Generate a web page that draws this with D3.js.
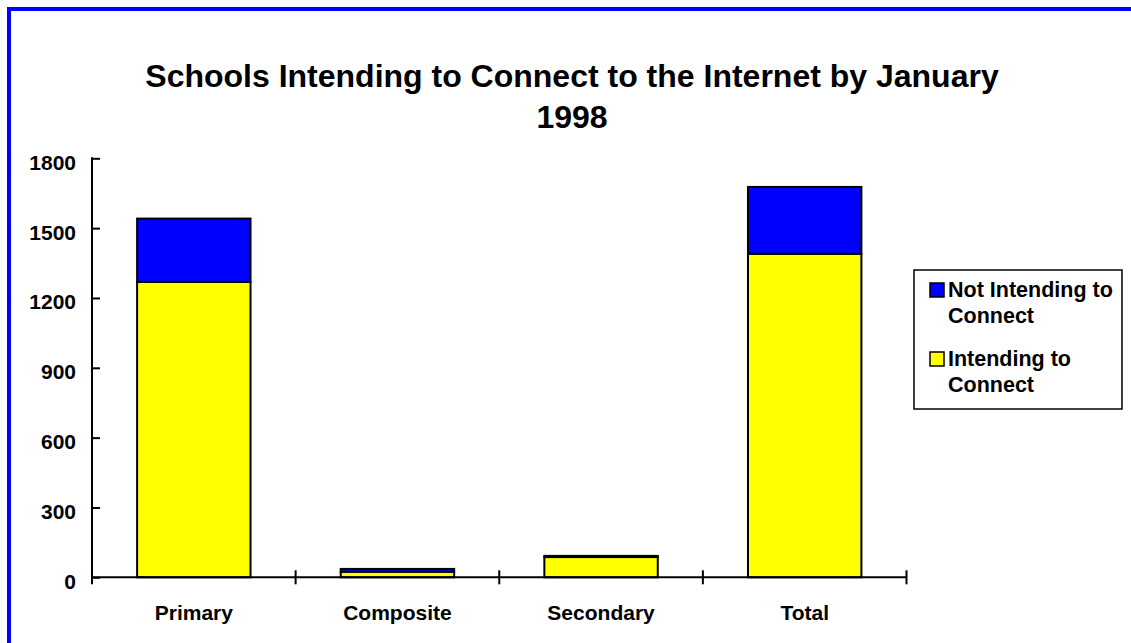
<!DOCTYPE html>
<html>
<head>
<meta charset="utf-8">
<script src="https://cdn.jsdelivr.net/npm/d3@7"></script>
<style>
html,body{margin:0;padding:0;background:#fff;overflow:hidden;}
svg{display:block;font-family:Arial,"Liberation Sans",sans-serif;font-weight:bold;}
</style>
</head>
<body>
<svg id="chart" width="1131" height="643"></svg>
<script>
const categories = ["Primary", "Composite", "Secondary", "Total"];
const intending = [1269, 24, 87, 1390];
const notIntending = [272, 12, 5, 287];
const yTicks = [0, 300, 600, 900, 1200, 1500, 1800];
const seriesNames = ["Not Intending to Connect", "Intending to Connect"];
const seriesColors = ["#0000ff", "#ffff00"];
const titleLines = ["Schools Intending to Connect to the Internet by January", "1998"];

const svg = d3.select("#chart");

// outer blue frame (right and bottom edges fall outside the view)
svg.append("rect").attr("x", 9).attr("y", 9).attr("width", 1300).attr("height", 800)
  .attr("fill", "none").attr("stroke", "#0000ff").attr("stroke-width", 4);

const x = d3.scaleBand().domain(categories).range([92, 906.5]).paddingInner(0.443).paddingOuter(0.2215);
const y = d3.scaleLinear().domain([0, 1800]).range([577.3, 158.3]);

// title
svg.append("text").attr("x", 572).attr("y", 87).attr("text-anchor", "middle")
  .attr("font-size", 32).text(titleLines[0]);
svg.append("text").attr("x", 572).attr("y", 128).attr("text-anchor", "middle")
  .attr("font-size", 32).text(titleLines[1]);

const data = categories.map((c, i) => ({cat: c, intending: intending[i], not: notIntending[i]}));
const stack = d3.stack().keys(["intending", "not"])(data);
const colorByKey = {intending: seriesColors[1], not: seriesColors[0]};

stack.forEach(layer => {
  svg.append("g").selectAll("rect").data(layer).join("rect")
    .attr("x", d => x(d.data.cat))
    .attr("width", x.bandwidth())
    .attr("y", d => y(d[1]))
    .attr("height", d => y(d[0]) - y(d[1]))
    .attr("fill", colorByKey[layer.key])
    .attr("stroke", "#000").attr("stroke-width", 2);
});

// y axis
const yAxis = d3.axisRight(y).tickValues(yTicks).tickSize(8).tickFormat("");
const gy = svg.append("g").attr("transform", "translate(92,0)").call(yAxis);
gy.select(".domain").remove();
gy.selectAll(".tick line").attr("stroke", "#000").attr("stroke-width", 2);
svg.append("line").attr("x1", 92).attr("x2", 92).attr("y1", y(1800) - 1).attr("y2", y(0))
  .attr("stroke", "#000").attr("stroke-width", 2);
svg.append("g").selectAll("text").data(yTicks).join("text")
  .attr("x", 76).attr("y", d => y(d) + 11.5).attr("text-anchor", "end")
  .attr("font-size", 21).text(d => d);

// x axis
svg.append("line").attr("x1", 91).attr("x2", 906.5).attr("y1", y(0)).attr("y2", y(0))
  .attr("stroke", "#000").attr("stroke-width", 2);
svg.append("g").selectAll("line").data(d3.range(categories.length + 1)).join("line")
  .attr("x1", i => x.range()[0] + i * (x.range()[1] - x.range()[0]) / categories.length)
  .attr("x2", i => x.range()[0] + i * (x.range()[1] - x.range()[0]) / categories.length)
  .attr("y1", y(0) - 7).attr("y2", y(0) + 7)
  .attr("stroke", "#000").attr("stroke-width", 2);
svg.append("g").selectAll("text").data(categories).join("text")
  .attr("x", d => x(d) + x.bandwidth() / 2).attr("y", 620).attr("text-anchor", "middle")
  .attr("font-size", 21).text(d => d);

// legend
const lg = svg.append("g");
lg.append("rect").attr("x", 914).attr("y", 270).attr("width", 208).attr("height", 139)
  .attr("fill", "#fff").attr("stroke", "#000").attr("stroke-width", 1.5);
const legendItems = [
  {lines: ["Not Intending to", "Connect"], color: seriesColors[0], top: 283},
  {lines: ["Intending to", "Connect"], color: seriesColors[1], top: 352}
];
legendItems.forEach(it => {
  lg.append("rect").attr("x", 930).attr("y", it.top).attr("width", 14).attr("height", 14)
    .attr("fill", it.color).attr("stroke", "#000").attr("stroke-width", 1.5);
  it.lines.forEach((t, j) => {
    lg.append("text").attr("x", 948).attr("y", it.top + 14 + j * 26)
      .attr("font-size", 21.5).text(t);
  });
});
</script>
</body>
</html>
